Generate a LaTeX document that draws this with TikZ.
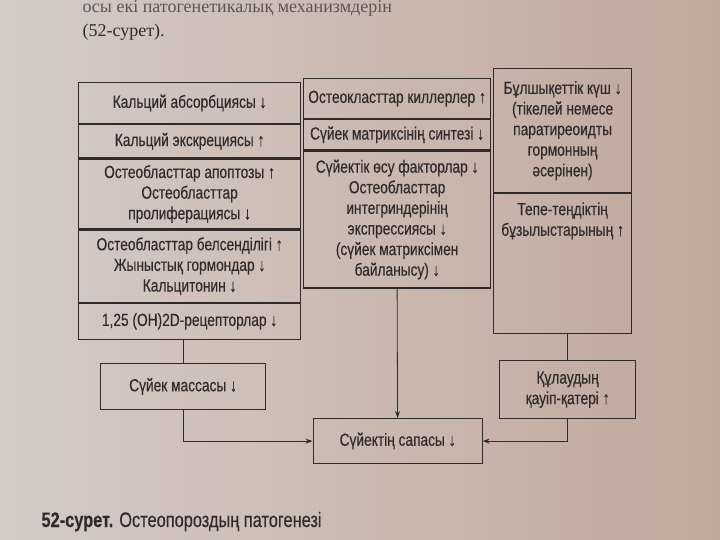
\documentclass[tikz,border=0pt]{standalone}
\usepackage{fontspec}
\setmainfont{Liberation Sans}[FakeStretch=0.78, FakeBold=0.3]
\newfontfamily\pageserif{Liberation Serif}
\definecolor{ink}{RGB}{48, 42, 42}
\definecolor{paperlight}{RGB}{214, 203, 198}
\definecolor{paperdark}{RGB}{192, 168, 156}
\usetikzlibrary{arrows.meta, positioning}

\begin{document}
\begin{tikzpicture}[x=1pt, y=-1pt,
  cell/.style={draw=ink, line width=1.2pt, anchor=north west, align=center, inner sep=2pt, text=ink, font=\fontsize{17.6}{20.6}\selectfont},
  celltext/.style={align=center, inner sep=0pt, text=ink, font=\fontsize{17.6}{20.6}\selectfont},
  link/.style={draw=ink, line width=0.8pt},
  arr/.style={link, -{Stealth[length=7pt, width=5pt]}}]
  \shade[left color=paperlight, right color=paperdark] (0,0) rectangle (720,540);
  \useasboundingbox (0,0) rectangle (720,540);

  % page text above the figure
  \node[anchor=base west, text=ink!80, font=\pageserif\fontsize{18}{22}\selectfont] (intro) at (79,13) {осы екі патогенетикалық механизмдерін};
  \node[anchor=base west, text=ink, font=\pageserif\fontsize{18}{22}\selectfont] (figref) at (79,37) {(52-сурет).};

  % left column
  \node[cell, minimum width=222pt, minimum height=41pt] (kabs) at (78,82) {Кальций абсорбциясы ↓};
  \node[cell, minimum width=222pt, minimum height=33pt] (kexc) at (kabs.south west) {Кальций экскрециясы ↑};
  \node[cell, minimum width=222pt, minimum height=70pt] (obapop) at (kexc.south west) {Остеобласттар апоптозы ↑\\ Остеобласттар\\ пролиферациясы ↓};
  \node[cell, minimum width=222pt, minimum height=72pt] (obact) at (obapop.south west) {Остеобласттар белсенділігі ↑\\ Жыныстық гормондар ↓\\ Кальцитонин ↓};
  \node[cell, minimum width=222pt, minimum height=36pt] (recep) at (obact.south west) {1,25 (OH)2D-рецепторлар ↓};

  % middle column
  \node[cell, minimum width=187pt, minimum height=40pt] (okill) at (303,78) {Остеокласттар киллерлер ↑};
  \node[cell, minimum width=187pt, minimum height=30pt] (msynth) at (okill.south west) {Сүйек матриксінің синтезі ↓};
  \node[cell, minimum width=187pt, minimum height=137pt] (growth) at (msynth.south west) {Сүйектік өсу факторлар ↓\\ Остеобласттар\\ интегриндерінің\\ экспрессиясы ↓\\ (сүйек матриксімен\\ байланысу) ↓};

  % right column
  \node[cell, minimum width=138pt, minimum height=124pt] (shear) at (493,68) {Бұлшықеттік күш ↓\\ (тікелей немесе\\ паратиреоидты\\ гормонның\\ әсерінен)};
  \node[cell, minimum width=138pt, minimum height=140pt] (balance) at (shear.south west) {};
  \node[celltext, below=9pt of balance.north] (balancetext) {Тепе-теңдіктің\\ бұзылыстарының ↑};

  % bottom row
  \node[cell, minimum width=165pt, minimum height=46pt] (mass) at (100,363) {Сүйек массасы ↓};
  \node[cell, minimum width=136pt, minimum height=58pt] (fall) at (499,360) {Құлаудың\\ қауіп-қатері ↑};
  \node[cell, minimum width=169pt, minimum height=45pt] (quality) at (312.5,418) {Сүйектің сапасы ↓};

  % connectors
  \draw[link] (mass.north |- recep.south) -- (mass.north);
  \draw[link] (fall.north |- balance.south) -- (fall.north);
  \draw[arr] (mass.south) |- (quality.west);
  \draw[arr] (growth.south) -- (quality.north);
  \draw[arr] (fall.south) |- (quality.east);

  % caption
  \node[anchor=base west, text=ink, font=\fontsize{21}{24}\selectfont] (caption) at (38,527) {\textbf{52-сурет.} Остеопороздың патогенезі};
\end{tikzpicture}
\end{document}
